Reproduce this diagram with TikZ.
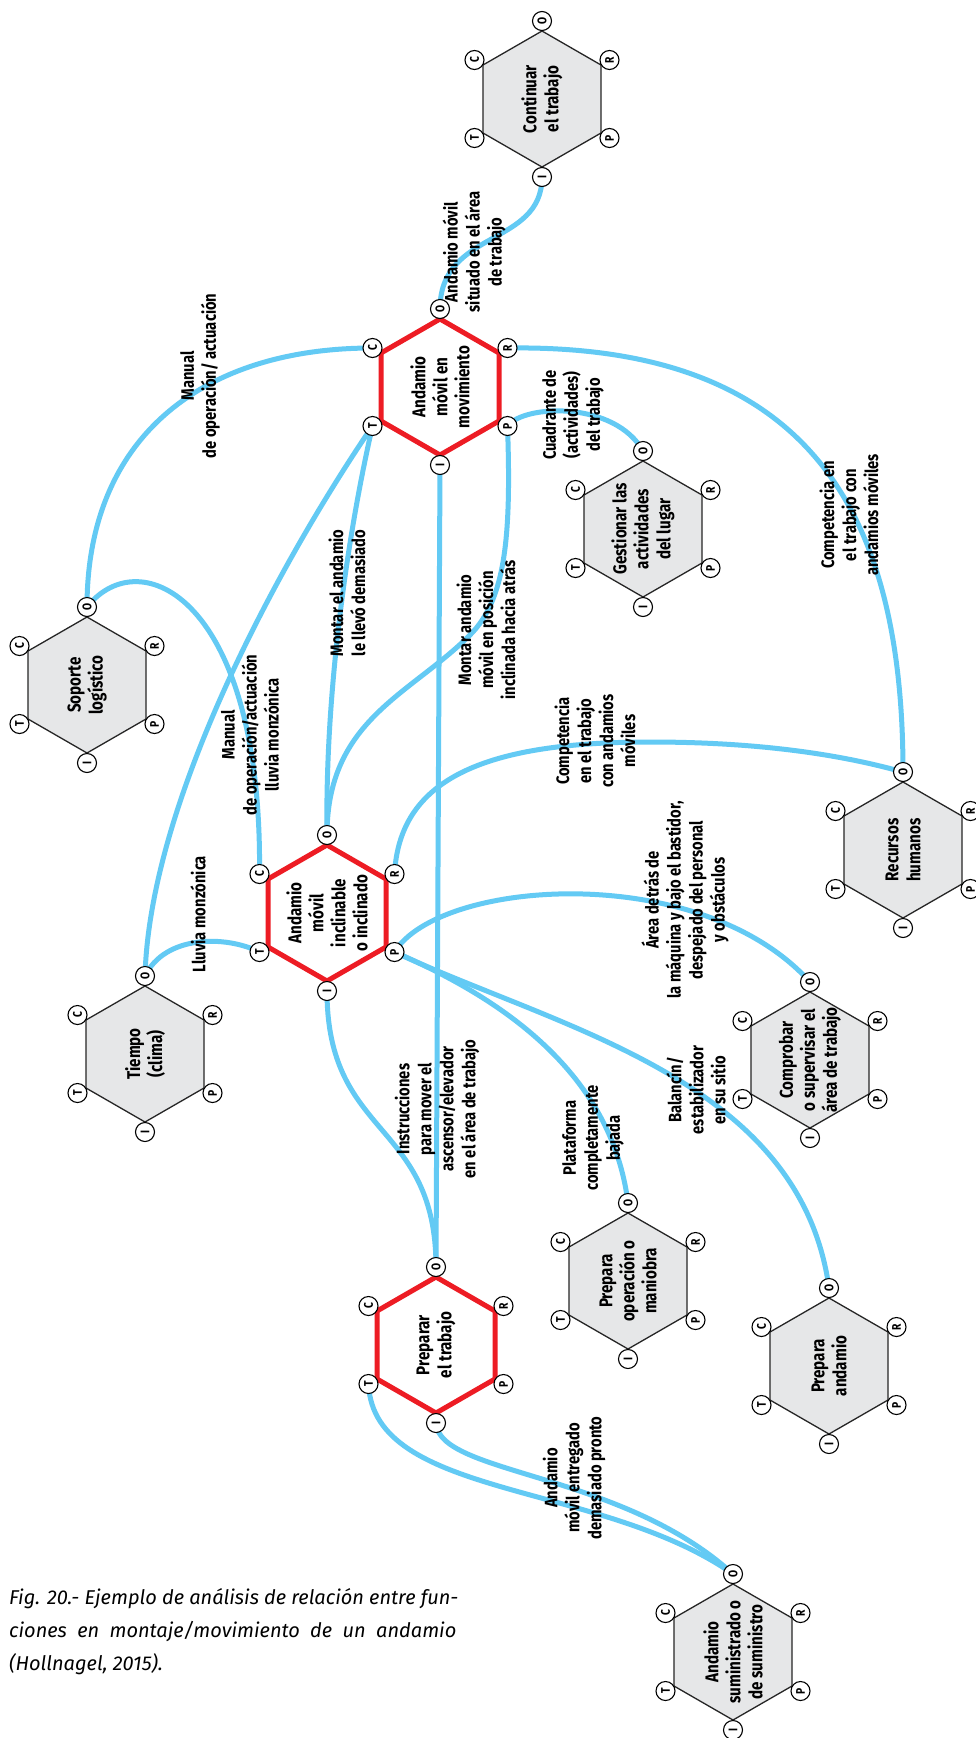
\documentclass[tikz,border=0pt]{standalone}
\usepackage{fontspec}
\setmainfont{Fira Sans}
\newfontfamily\lblfont[FakeStretch=0.82]{Fira Sans}
\usetikzlibrary{calc}
\definecolor{linkblue}{RGB}{99,202,244}
\definecolor{hred}{RGB}{237,28,36}
\definecolor{hgray}{RGB}{230,231,232}
\pgfdeclarelayer{back}
\pgfdeclarelayer{bg}
\pgfsetlayers{back,bg,main}
\tikzset{
  link/.style={draw=linkblue, line width=5pt},
  hexred/.style={draw=hred, line width=5pt, fill=white, line join=miter},
  hexgray/.style={draw=black!85, line width=1.3pt, fill=hgray},
  port/.style={circle, draw=black, fill=white, line width=1.1pt, inner sep=0pt,
     minimum size=19pt, font=\lblfont\bfseries\fontsize{12.5}{12.5}\selectfont, rotate=90},
  htext/.style={font=\lblfont\bfseries\fontsize{18.5}{22}\selectfont, align=center, rotate=90, inner sep=0pt},
  elabel/.style={font=\lblfont\bfseries\fontsize{18}{22}\selectfont, align=center, rotate=90, inner sep=0pt}
}
\newcommand\fhex[5]{%
 \begin{scope}[shift={(#2,#3)}]
  \draw[#4] (0,-68) -- (59,-34) -- (59,34) -- (0,68) -- (-59,34) -- (-59,-34) -- cycle;
  \node[htext] (#1) at (0,0) {#5};
  \node[port] (#1-O) at (0,-78) {O};
  \node[port] (#1-R) at (67.5,-39) {R};
  \node[port] (#1-P) at (67.5,39) {P};
  \node[port] (#1-I) at (0,78) {I};
  \node[port] (#1-T) at (-67.5,39) {T};
  \node[port] (#1-C) at (-67.5,-39) {C};
 \end{scope}}
\begin{document}
\begin{tikzpicture}[x=1pt,y=-1pt]
\begin{pgfonlayer}{back}
\fill[white] (0,0) rectangle (976,1738);
\end{pgfonlayer}
\useasboundingbox (0,0) rectangle (976,1738);
% hexagons
\fhex{cont}{542}{99}{hexgray}{Continuar\\el trabajo}
\fhex{mov}{440}{387}{hexred}{Andamio\\móvil en\\movimiento}
\fhex{sop}{87}{685}{hexgray}{Soporte\\logístico}
\fhex{ges}{643}{529}{hexgray}{Gestionar las\\actividades\\del lugar}
\fhex{rec}{903}{850}{hexgray}{Recursos\\humanos}
\fhex{inc}{327}{913}{hexred}{Andamio\\móvil\\inclinable\\o inclinado}
\fhex{tie}{145}{1054}{hexgray}{Tiempo\\(clima)}
\fhex{comp}{810}{1060}{hexgray}{Comprobar\\o supervisar el\\área de trabajo}
\fhex{pop}{628}{1281}{hexgray}{Prepara\\operación o\\maniobra}
\fhex{pan}{829}{1366}{hexgray}{Prepara\\andamio}
\fhex{prep}{436}{1345}{hexred}{Preparar\\el trabajo}
\fhex{sum}{733}{1652}{hexgray}{Andamio\\suministrado o\\de suministro}
% helper coordinates
\coordinate (k7) at (470,635);
\coordinate (k11) at (650,742);
% connectors
\begin{pgfonlayer}{bg}
\draw[link] (cont-I.center) .. controls +(0,70) and +(0,-80) .. (mov-O.center);
\draw[link] (mov-C.center) .. controls +(-170,0) and +(0,-170) .. (sop-O.center);
\draw[link] (sop-O.center) .. controls +(53,-67) and +(3,-276) .. (inc-C.center);
\draw[link] (tie-O.center) .. controls +(5,-176) and +(-92,135) .. (mov-T.center);
\draw[link] (tie-O.center) .. controls +(20,-41) and +(-34,-17) .. (inc-T.center);
\draw[link] (inc-O.center) .. controls +(-2,-135) and +(-27,118) .. (mov-T.center);
\draw[link] (mov-P.center) .. controls +(4,113) and +(35,-35) .. (k7) .. controls +(-60,60) and +(0,-115) .. (inc-O.center);
\draw[link] (mov-I.center) -- (prep-O.center);
\draw[link] (mov-P.center) .. controls +(17,-22) and +(-28,-50) .. (ges-O.center);
\draw[link] (mov-R.center) .. controls +(292,-4) and +(0,-272) .. (rec-O.center);
\draw[link] (inc-R.center) .. controls +(5,-93) and +(-170,0) .. (k11) .. controls +(130,0) and +(-43,-12) .. (rec-O.center);
\draw[link] (inc-P.center) .. controls +(45,-73) and +(-110,-122) .. (comp-O.center);
\draw[link] (inc-P.center) .. controls +(85,37) and +(-18,-143) .. (pop-O.center);
\draw[link] (inc-P.center) .. controls +(165,77) and +(-29,-209) .. (pan-O.center);
\draw[link] (inc-I.center) .. controls +(0,148) and +(0,-147) .. (prep-O.center);
\draw[link] (prep-T.center) .. controls +(5,115) and +(-133,-93) .. (sum-O.center);
\draw[link] (prep-I.center) .. controls +(3,52) and +(-113,-103) .. (sum-O.center);
\end{pgfonlayer}
% connector labels
\node[elabel] (l1) at (474,252) {Andamio móvil\\situado en el área\\de trabajo};
\node[elabel] (l2) at (200,376) {Manual\\de operación/ actuación};
\node[elabel] (l3) at (250,735) {Manual\\de operación/actuación\\lluvia monzónica};
\node[elabel] (l4) at (198,914) {Lluvia monzónica};
\node[elabel] (l5) at (347,593) {Montar el andamio\\le llevó demasiado};
\node[elabel] (l6) at (486,630) {Montar andamio\\móvil en posición\\inclinada hacia atrás};
\node[elabel] (l7) at (573,415) {Cuadrante de\\(actividades)\\del trabajo};
\node[elabel] (l8) at (849,515) {Competencia en\\el trabajo con\\andamios móviles};
\node[elabel] (l9) at (595,741) {Competencia\\en el trabajo\\con andamios\\móviles};
\node[elabel] (l10) at (685,900) {Área detrás de\\la máquina y bajo el bastidor,\\despejado del personal\\y obstáculos};
\node[elabel] (l11) at (696,1090) {Balancín/\\estabilizador\\en su sitio};
\node[elabel] (l12) at (593,1138) {Plataforma\\completamente\\bajada};
\node[elabel] (l13) at (437,1109) {Instrucciones\\para mover el\\ascensor/elevador\\en el área de trabajo};
\node[elabel] (l14) at (574,1478) {Andamio\\móvil entregado\\demasiado pronto};
% caption
\node[anchor=north west, inner sep=0pt, align=left, font=\fontsize{20}{33}\selectfont\itshape] (cap) at (9,1588)
 {Fig. 20.- Ejemplo de análisis de relación entre fun-\\
  ciones\ \ en\ \ montaje/movimiento\ \ de\ \ un\ \ andamio\\
  (Hollnagel, 2015).};
\end{tikzpicture}
\end{document}
